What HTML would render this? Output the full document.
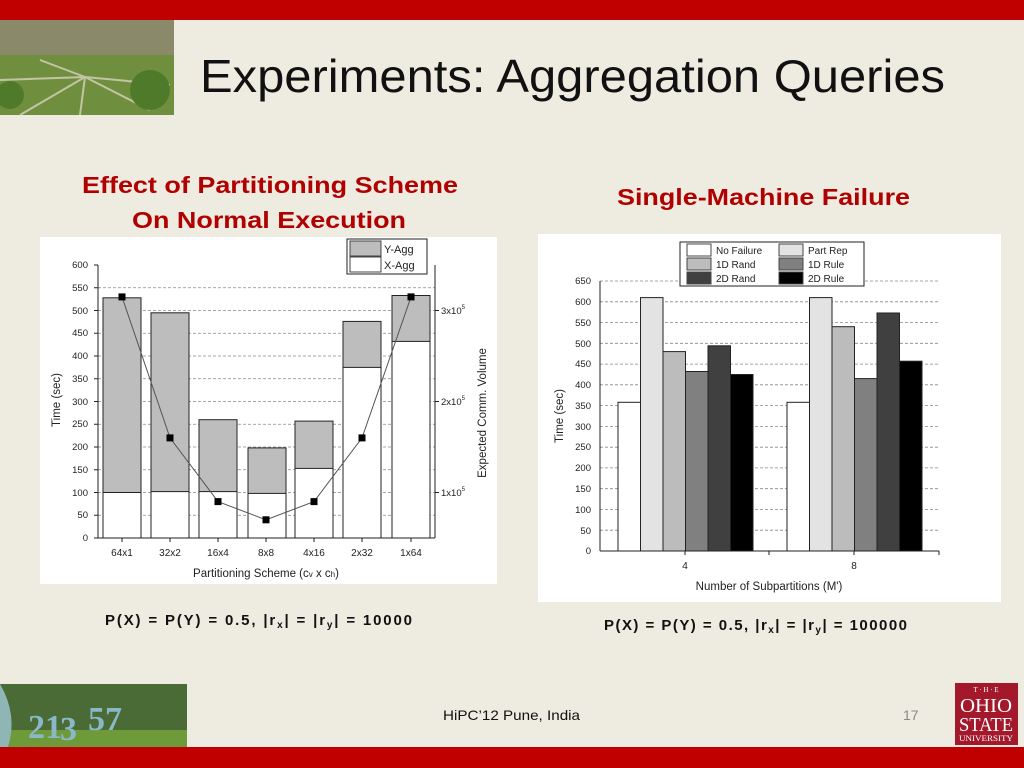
<!DOCTYPE html>
<html><head><meta charset="utf-8"><style>
html,body{margin:0;padding:0;background:#eeebe1;}
svg{display:block;font-family:"Liberation Sans",Arial,sans-serif;}
</style></head><body>
<svg width="1024" height="768" viewBox="0 0 1024 768" xmlns="http://www.w3.org/2000/svg">
<rect width="1024" height="768" fill="#eeebe1"/>
<rect x="0" y="0" width="1024" height="20" fill="#c00000"/>
<rect x="0" y="747" width="1024" height="21" fill="#c00000"/>
<!-- header photo -->
<rect x="0" y="20" width="174" height="95" fill="#6f8f3f"/>
<rect x="0" y="20" width="174" height="35" fill="#8a8a6a"/>
<g stroke="#d8d2bf" stroke-width="2" opacity="0.8"><line x1="85" y1="77" x2="20" y2="115"/><line x1="85" y1="77" x2="150" y2="110"/><line x1="85" y1="77" x2="0" y2="80"/><line x1="85" y1="77" x2="170" y2="85"/><line x1="85" y1="77" x2="40" y2="60"/><line x1="85" y1="77" x2="80" y2="115"/></g>
<circle cx="150" cy="90" r="20" fill="#4f7a2a"/><circle cx="10" cy="95" r="14" fill="#4f7a2a"/>
<text x="200" y="92" font-size="46" fill="#111" textLength="745" lengthAdjust="spacingAndGlyphs">Experiments: Aggregation Queries</text>
<g fill="#b00000" font-weight="bold" font-size="23">
<text x="82" y="193" textLength="376" lengthAdjust="spacingAndGlyphs">Effect of Partitioning Scheme</text>
<text x="132" y="228" textLength="274" lengthAdjust="spacingAndGlyphs">On Normal Execution</text>
<text x="617" y="205" textLength="293" lengthAdjust="spacingAndGlyphs">Single-Machine Failure</text>
</g>
<!-- LEFT CHART -->
<rect x="40" y="237" width="457" height="347" fill="#fff"/>
<g stroke="#888" stroke-dasharray="3,2" stroke-width="0.8">
<line x1="98" y1="287.75" x2="435" y2="287.75"/><line x1="98" y1="310.5" x2="435" y2="310.5"/><line x1="98" y1="333.25" x2="435" y2="333.25"/><line x1="98" y1="356" x2="435" y2="356"/><line x1="98" y1="378.75" x2="435" y2="378.75"/><line x1="98" y1="401.5" x2="435" y2="401.5"/><line x1="98" y1="424.25" x2="435" y2="424.25"/><line x1="98" y1="447" x2="435" y2="447"/><line x1="98" y1="469.75" x2="435" y2="469.75"/><line x1="98" y1="492.5" x2="435" y2="492.5"/><line x1="98" y1="515.25" x2="435" y2="515.25"/>
</g>
<g stroke="#222" stroke-width="1">
<rect x="103" y="297.8" width="38" height="240.2" fill="#bdbdbd"/><rect x="103" y="492.5" width="38" height="45.5" fill="#fff"/>
<rect x="151" y="312.8" width="38" height="225.2" fill="#bdbdbd"/><rect x="151" y="491.6" width="38" height="46.4" fill="#fff"/>
<rect x="199" y="419.7" width="38" height="118.3" fill="#bdbdbd"/><rect x="199" y="491.6" width="38" height="46.4" fill="#fff"/>
<rect x="248" y="447.9" width="38" height="90.1" fill="#bdbdbd"/><rect x="248" y="493.4" width="38" height="44.6" fill="#fff"/>
<rect x="295" y="421.1" width="38" height="116.9" fill="#bdbdbd"/><rect x="295" y="468.4" width="38" height="69.6" fill="#fff"/>
<rect x="343" y="321.4" width="38" height="216.6" fill="#bdbdbd"/><rect x="343" y="367.4" width="38" height="170.6" fill="#fff"/>
<rect x="392" y="295.5" width="38" height="242.5" fill="#bdbdbd"/><rect x="392" y="341.4" width="38" height="196.6" fill="#fff"/>
</g>
<polyline points="122,296.9 170,437.9 218,501.6 266,519.8 314,501.6 362,437.9 411,296.9" fill="none" stroke="#555" stroke-width="1"/>
<g fill="#000"><rect x="118.5" y="293.4" width="7" height="7"/><rect x="166.5" y="434.4" width="7" height="7"/><rect x="214.5" y="498.1" width="7" height="7"/><rect x="262.5" y="516.3" width="7" height="7"/><rect x="310.5" y="498.1" width="7" height="7"/><rect x="358.5" y="434.4" width="7" height="7"/><rect x="407.5" y="293.4" width="7" height="7"/></g>
<g stroke="#222" stroke-width="1">
<line x1="98" y1="265" x2="98" y2="538"/><line x1="98" y1="538" x2="435" y2="538"/><line x1="435" y1="265" x2="435" y2="538"/>
</g>
<g stroke="#222" stroke-width="1">
<line x1="94" y1="265" x2="98" y2="265"/><line x1="94" y1="287.75" x2="98" y2="287.75"/><line x1="94" y1="310.5" x2="98" y2="310.5"/><line x1="94" y1="333.25" x2="98" y2="333.25"/><line x1="94" y1="356" x2="98" y2="356"/><line x1="94" y1="378.75" x2="98" y2="378.75"/><line x1="94" y1="401.5" x2="98" y2="401.5"/><line x1="94" y1="424.25" x2="98" y2="424.25"/><line x1="94" y1="447" x2="98" y2="447"/><line x1="94" y1="469.75" x2="98" y2="469.75"/><line x1="94" y1="492.5" x2="98" y2="492.5"/><line x1="94" y1="515.25" x2="98" y2="515.25"/><line x1="94" y1="538" x2="98" y2="538"/>
<line x1="435" y1="310.5" x2="439" y2="310.5"/><line x1="435" y1="401.5" x2="439" y2="401.5"/><line x1="435" y1="492.5" x2="439" y2="492.5"/>
<line x1="122" y1="538" x2="122" y2="542"/><line x1="170" y1="538" x2="170" y2="542"/><line x1="218" y1="538" x2="218" y2="542"/><line x1="266" y1="538" x2="266" y2="542"/><line x1="314" y1="538" x2="314" y2="542"/><line x1="362" y1="538" x2="362" y2="542"/><line x1="411" y1="538" x2="411" y2="542"/>
</g>
<g font-size="9.5" fill="#222" text-anchor="end">
<text x="88" y="268">600</text><text x="88" y="291">550</text><text x="88" y="314">500</text><text x="88" y="336">450</text><text x="88" y="359">400</text><text x="88" y="382">350</text><text x="88" y="405">300</text><text x="88" y="427">250</text><text x="88" y="450">200</text><text x="88" y="473">150</text><text x="88" y="496">100</text><text x="88" y="518">50</text><text x="88" y="541">0</text>
</g>
<g font-size="9.5" fill="#222">
<text x="441" y="314">3x10<tspan font-size="6" dy="-5">5</tspan></text>
<text x="441" y="405">2x10<tspan font-size="6" dy="-5">5</tspan></text>
<text x="441" y="496">1x10<tspan font-size="6" dy="-5">5</tspan></text>
</g>
<g font-size="10" fill="#222" text-anchor="middle">
<text x="122" y="556">64x1</text><text x="170" y="556">32x2</text><text x="218" y="556">16x4</text><text x="266" y="556">8x8</text><text x="314" y="556">4x16</text><text x="362" y="556">2x32</text><text x="411" y="556">1x64</text>
<text x="266" y="577" font-size="11.5">Partitioning Scheme (c<tspan font-size="8">v</tspan> x c<tspan font-size="8">h</tspan>)</text>
<text transform="translate(60,400) rotate(-90)" font-size="11.5">Time (sec)</text>
<text transform="translate(486,413) rotate(-90)" font-size="11.5">Expected  Comm. Volume</text>
</g>
<rect x="347" y="239" width="80" height="35" fill="#fff" stroke="#222"/>
<rect x="350" y="241" width="31" height="15" fill="#bdbdbd" stroke="#444"/>
<rect x="350" y="257" width="31" height="15" fill="#fff" stroke="#444"/>
<text x="384" y="253" font-size="11" fill="#222">Y-Agg</text>
<text x="384" y="269" font-size="11" fill="#222">X-Agg</text>
<!-- RIGHT CHART -->
<rect x="538" y="234" width="463" height="368" fill="#fff"/>
<g stroke="#888" stroke-dasharray="3,2" stroke-width="0.8">
<line x1="600" y1="281" x2="939" y2="281"/><line x1="600" y1="301.8" x2="939" y2="301.8"/><line x1="600" y1="322.5" x2="939" y2="322.5"/><line x1="600" y1="343.3" x2="939" y2="343.3"/><line x1="600" y1="364.1" x2="939" y2="364.1"/><line x1="600" y1="384.8" x2="939" y2="384.8"/><line x1="600" y1="405.6" x2="939" y2="405.6"/><line x1="600" y1="426.4" x2="939" y2="426.4"/><line x1="600" y1="447.2" x2="939" y2="447.2"/><line x1="600" y1="467.9" x2="939" y2="467.9"/><line x1="600" y1="488.7" x2="939" y2="488.7"/><line x1="600" y1="509.5" x2="939" y2="509.5"/><line x1="600" y1="530.2" x2="939" y2="530.2"/>
</g>
<g stroke="#222" stroke-width="1">
<rect x="618" y="402.3" width="22.5" height="148.7" fill="#fff"/>
<rect x="640.5" y="297.6" width="22.5" height="253.4" fill="#e3e3e3"/>
<rect x="663" y="351.6" width="22.5" height="199.4" fill="#bcbcbc"/>
<rect x="685.5" y="371.5" width="22.5" height="179.5" fill="#808080"/>
<rect x="708" y="345.8" width="22.5" height="205.2" fill="#404040"/>
<rect x="730.5" y="374.5" width="22.5" height="176.5" fill="#000"/>
<rect x="787" y="402.3" width="22.5" height="148.7" fill="#fff"/>
<rect x="809.5" y="297.6" width="22.5" height="253.4" fill="#e3e3e3"/>
<rect x="832" y="326.7" width="22.5" height="224.3" fill="#bcbcbc"/>
<rect x="854.5" y="378.6" width="22.5" height="172.4" fill="#808080"/>
<rect x="877" y="313" width="22.5" height="238" fill="#404040"/>
<rect x="899.5" y="361.2" width="22.5" height="189.8" fill="#000"/>
<line x1="600" y1="281" x2="600" y2="551"/><line x1="600" y1="551" x2="939" y2="551"/>
<line x1="685" y1="551" x2="685" y2="555"/><line x1="769" y1="551" x2="769" y2="555"/><line x1="854" y1="551" x2="854" y2="555"/><line x1="939" y1="551" x2="939" y2="555"/>
</g>
<g font-size="9.5" fill="#222" text-anchor="end">
<text x="591" y="284">650</text><text x="591" y="305">600</text><text x="591" y="326">550</text><text x="591" y="347">500</text><text x="591" y="367">450</text><text x="591" y="388">400</text><text x="591" y="409">350</text><text x="591" y="430">300</text><text x="591" y="450">250</text><text x="591" y="471">200</text><text x="591" y="492">150</text><text x="591" y="513">100</text><text x="591" y="534">50</text><text x="591" y="554">0</text>
</g>
<g font-size="10" fill="#222" text-anchor="middle">
<text x="685" y="569">4</text><text x="854" y="569">8</text>
<text x="769" y="590" font-size="11.5">Number of Subpartitions (M')</text>
<text transform="translate(563,416) rotate(-90)" font-size="11.5">Time (sec)</text>
</g>
<rect x="680" y="242" width="184" height="44" fill="#fff" stroke="#222"/>
<g stroke="#444" stroke-width="1">
<rect x="687" y="244" width="24" height="12" fill="#fff"/><rect x="779" y="244" width="24" height="12" fill="#e3e3e3"/>
<rect x="687" y="258" width="24" height="12" fill="#bcbcbc"/><rect x="779" y="258" width="24" height="12" fill="#808080"/>
<rect x="687" y="272" width="24" height="12" fill="#404040"/><rect x="779" y="272" width="24" height="12" fill="#000"/>
</g>
<g font-size="10" fill="#222">
<text x="716" y="254">No Failure</text><text x="808" y="254">Part Rep</text>
<text x="716" y="268">1D Rand</text><text x="808" y="268">1D Rule</text>
<text x="716" y="282">2D Rand</text><text x="808" y="282">2D Rule</text>
</g>
<!-- captions -->
<g font-weight="bold" font-size="15" fill="#111">
<text x="105" y="625" textLength="307" lengthAdjust="spacing">P(X) = P(Y) = 0.5, |r<tspan font-size="10" dy="3">x</tspan><tspan dy="-3">| = |r</tspan><tspan font-size="10" dy="3">y</tspan><tspan dy="-3">| = 10000</tspan></text>
<text x="604" y="630" textLength="303" lengthAdjust="spacing">P(X) = P(Y) = 0.5, |r<tspan font-size="10" dy="3">x</tspan><tspan dy="-3">| = |r</tspan><tspan font-size="10" dy="3">y</tspan><tspan dy="-3">| = 100000</tspan></text>
</g>
<!-- footer -->
<rect x="0" y="684" width="187" height="63" fill="#4a6b35"/>
<rect x="0" y="730" width="187" height="17" fill="#6f9a3a"/>
<path d="M0,684 Q18,715 8,747 L0,747Z" fill="#8fb5b5"/>
<g fill="#8ab8c8" font-weight="bold" font-size="34" font-family="Liberation Serif,serif"><text x="28" y="738">2</text><text x="45" y="738">1</text><text x="60" y="740">3</text><text x="88" y="730">57</text></g>
<text x="443" y="720" font-size="14" fill="#111" textLength="137" lengthAdjust="spacingAndGlyphs">HiPC’12 Pune, India</text>
<text x="903" y="720" font-size="14" fill="#888">17</text>
<rect x="955" y="683" width="63" height="62" fill="#a3182b"/>
<g fill="#fff" text-anchor="middle" font-family="Liberation Serif,serif">
<text x="986" y="692" font-size="7">T · H · E</text>
<text x="986" y="712" font-size="20" textLength="52" lengthAdjust="spacingAndGlyphs">OHIO</text>
<text x="986" y="731" font-size="20" textLength="54" lengthAdjust="spacingAndGlyphs">STATE</text>
<text x="986" y="741" font-size="8" textLength="54" lengthAdjust="spacingAndGlyphs">UNIVERSITY</text>
</g>
</svg>
</body></html>
